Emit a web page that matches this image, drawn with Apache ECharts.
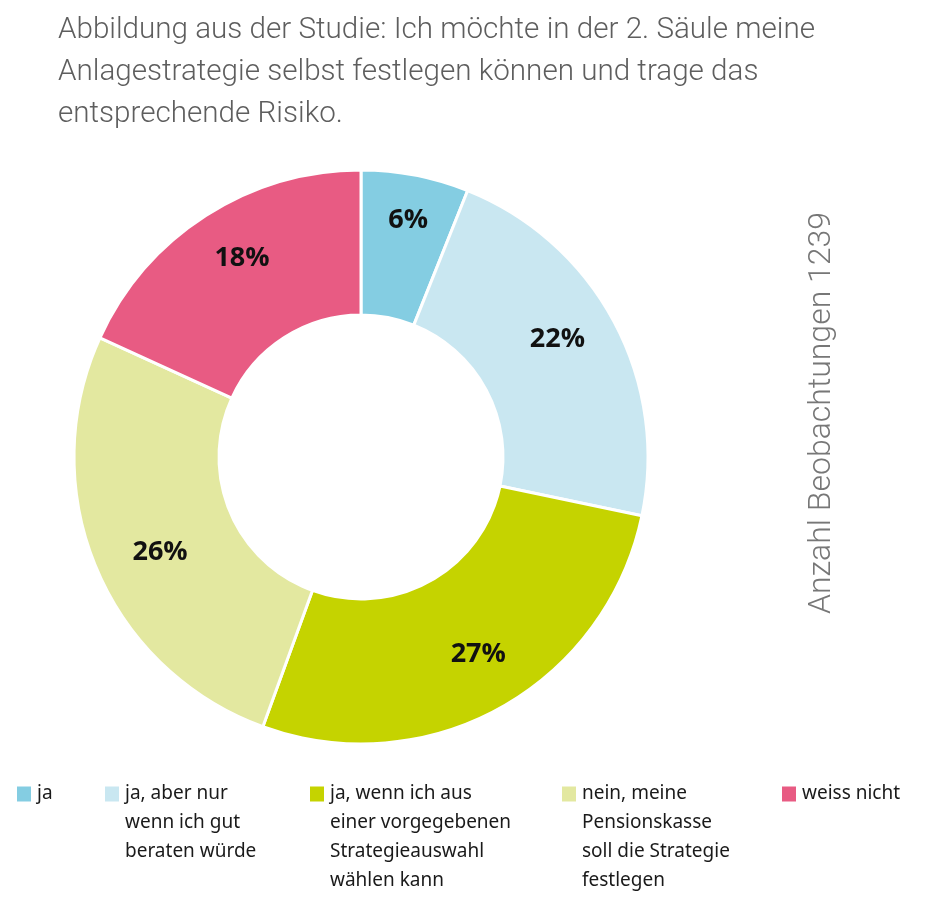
<!DOCTYPE html>
<html>
<head>
<meta charset="utf-8">
<script src="https://cdn.jsdelivr.net/npm/echarts@6/dist/echarts.min.js"></script>
<style>html,body{margin:0;padding:0;background:#fff}#c{width:936px;height:904px}</style>
</head>
<body>
<div id="c"></div>
<script>
var titleText = 'Abbildung aus der Studie: Ich möchte in der 2. Säule meine\nAnlagestrategie selbst festlegen können und trage das\nentsprechende Risiko.';
var sideText = 'Anzahl Beobachtungen 1239';
var categories = ['ja', 'ja, aber nur\nwenn ich gut\nberaten würde', 'ja, wenn ich aus\neiner vorgegebenen\nStrategieauswahl\nwählen kann', 'nein, meine\nPensionskasse\nsoll die Strategie\nfestlegen', 'weiss nicht'];
var values = [6, 22, 27, 26, 18];
var colors = ['#84cde2', '#c9e7f1', '#c5d300', '#e3e8a0', '#e85b83'];
var legendLeft = [15, 103, 308, 560, 780];
var labelOffsets = [[3, -8], [-9, -8], [4, -6], [14, 5], [7, -3]];

var chart = echarts.init(document.getElementById('c'));
var data = categories.map(function (c, i) { return { name: c, value: values[i], itemStyle: { color: colors[i] } }; });
var L = 29;
var legends = categories.map(function (c, i) {
  var n = c.split('\n').length;
  return {
    data: [c],
    left: legendLeft[i],
    top: 794 - (2 * n - 1) * L / 2,
    padding: 0,
    itemWidth: 16,
    itemHeight: 17,
    icon: 'rect',
    selectedMode: false,
    formatter: function (name) { return new Array(n).join('\n') + name; },
    textStyle: { fontFamily: 'Noto Sans', fontSize: 19, color: '#1a1a1a', lineHeight: L }
  };
});
chart.setOption({
  animation: false,
  title: {
    text: titleText, left: 58, top: 10, padding: 0,
    textStyle: { fontFamily: 'Roboto', fontWeight: 300, fontSize: 29.6, lineHeight: 42, color: '#5e5e5e' }
  },
  legend: legends,
  graphic: [{
    type: 'text', x: 822, y: 413, rotation: Math.PI / 2,
    style: { text: sideText, fontFamily: 'Roboto', fontWeight: 300, fontSize: 32, fill: '#777', align: 'center', verticalAlign: 'middle' }
  }],
  series: [{
    type: 'pie', center: [361, 457], radius: [142, 287], startAngle: 90, clockwise: true,
    itemStyle: { borderColor: '#fff', borderWidth: 3 },
    label: { show: false }, labelLine: { show: false }, emphasis: { disabled: true },
    data: data
  }, {
    type: 'pie', center: [361, 457], radius: [173, 287], startAngle: 90, clockwise: true, silent: true,
    itemStyle: { color: 'transparent' },
    label: { show: true, position: 'inside', formatter: '{c}%', fontFamily: 'Open Sans', fontWeight: 'bold', fontSize: 27, color: '#111' },
    labelLine: { show: false }, emphasis: { disabled: true },
    data: categories.map(function (c, i) { return { name: c, value: values[i], label: { offset: labelOffsets[i] } }; })
  }]
});
</script>
</body>
</html>
